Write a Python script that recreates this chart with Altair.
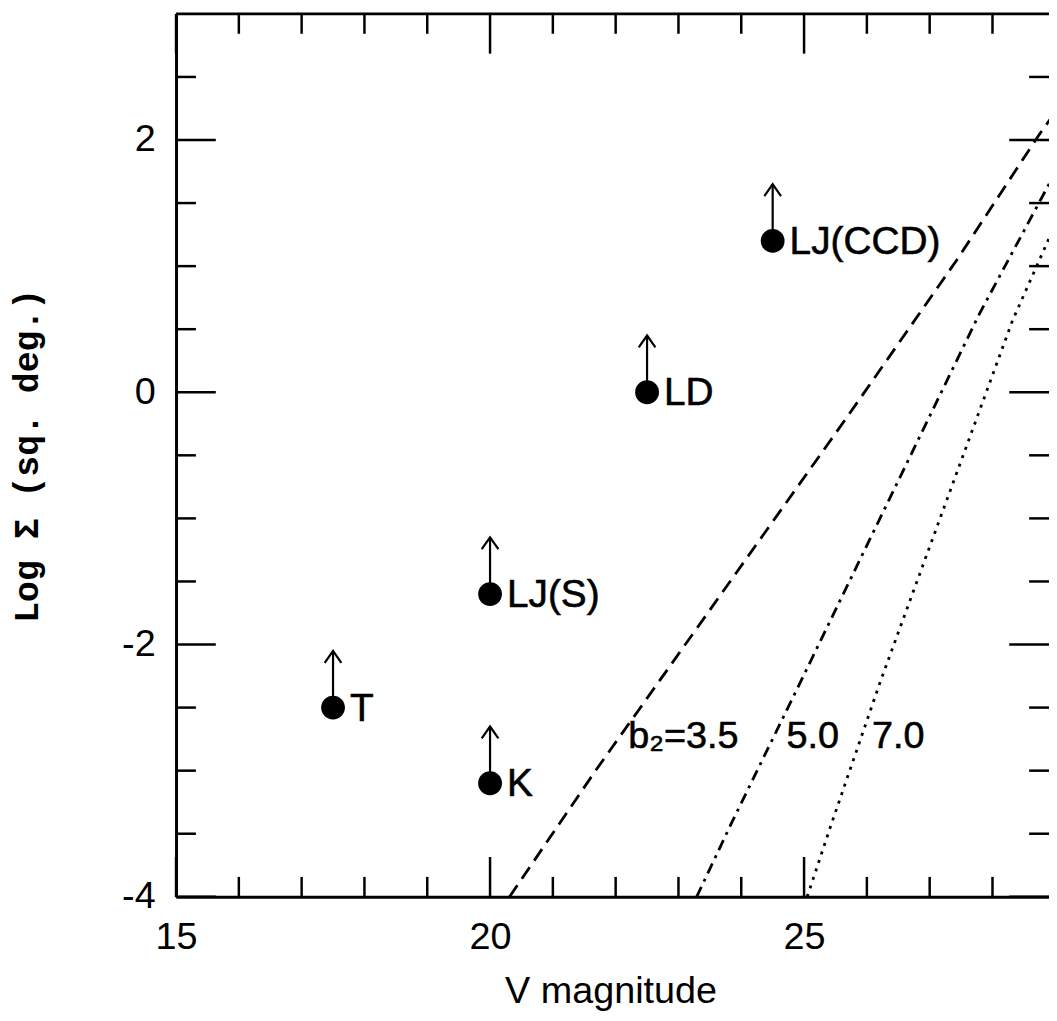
import altair as alt
import pandas as pd

# ---- data ----
names = ["T", "LJ(S)", "K", "LD", "LJ(CCD)"]
vmag = [17.5, 20.0, 20.0, 22.5, 24.5]
log_sigma = [-2.5, -1.6, -3.1, 0.0, 1.2]

curve35_v = [20.31, 21.68, 25.68, 27.42, 28.74, 29.0]
curve35_s = [-4.0, -3.0, -0.2, 1.04, 2.04, 2.22]
curve50_v = [23.29, 23.85, 24.95, 27.79, 28.9, 29.0]
curve50_s = [-4.0, -3.41, -2.29, 0.62, 1.65, 1.74]
curve70_v = [25.05, 25.43, 26.21, 26.68, 28.32, 28.9, 29.0]
curve70_s = [-4.0, -3.43, -2.30, -1.66, 0.57, 1.22, 1.33]

curve_labels = ["b\u2082=3.5", "5.0", "7.0"]
curve_label_v = [22.2, 24.72, 26.08]
curve_label_s = [-2.82, -2.82, -2.82]

x_major = [15, 20, 25]
x_minor = [16, 17, 18, 19, 21, 22, 23, 24, 26, 27, 28]
y_major = [-4, -2, 0, 2]
y_minor = [-3.5, -3, -2.5, -1.5, -1, -0.5, 0.5, 1, 1.5, 2.5]

W, H = 878, 888
FONT = "Liberation Sans"

pts = pd.DataFrame({"name": names, "v": vmag, "s": log_sigma})
c35 = pd.DataFrame({"v": curve35_v, "s": curve35_s})
c50 = pd.DataFrame({"v": curve50_v, "s": curve50_s})
c70 = pd.DataFrame({"v": curve70_v, "s": curve70_s})
clab = pd.DataFrame({"t": curve_labels, "v": curve_label_v, "s": curve_label_s})
xmaj = pd.DataFrame({"v": x_major})
xmin = pd.DataFrame({"v": x_minor})
ymaj = pd.DataFrame({"s": y_major})
ymin = pd.DataFrame({"s": y_minor})
one = pd.DataFrame({"a": [0]})

xs = alt.Scale(domain=[15, 28.9], nice=False, zero=False)
ys = alt.Scale(domain=[-4, 3], nice=False, zero=False)

xaxis = alt.Axis(
    values=x_major, ticks=False, tickSize=0, grid=False,
    domainWidth=3, domainColor="black", labelFont=FONT, labelFontSize=38,
    labelColor="black", labelPadding=22, labelFlush=False, labelOverlap=False,
    labelExpr="'' + datum.value",
    titleFont=FONT, titleFontSize=38, titleFontWeight="normal", titleColor="black",
    titleX=437, titleY=106, titleAlign="center", titleBaseline="alphabetic",
)
yaxis = alt.Axis(
    values=y_major, ticks=False, tickSize=0, grid=False,
    domainWidth=3, domainColor="black", labelFont=FONT, labelFontSize=38,
    labelColor="black", labelPadding=21, labelFlush=False, labelOverlap=False,
    labelExpr="'' + datum.value",
    titleFont="Liberation Mono", titleFontSize=35, titleFontWeight="bold",
    titleColor="black", titleX=-139, titleY=H / 2, titleAngle=270,
    titleAlign="center", titleBaseline="alphabetic",
)

XT = "V magnitude"
YT = "Log \u03a3 (sq. deg.)"


def X(field="v"):
    return alt.X(f"{field}:Q", scale=xs, axis=xaxis, title=XT)


def Y(field="s"):
    return alt.Y(f"{field}:Q", scale=ys, axis=yaxis, title=YT)


def curve(df, dash):
    return alt.Chart(df).mark_line(
        color="black", strokeWidth=2.8, strokeDash=dash, clip=True
    ).encode(x=X(), y=Y(), order="v:Q")


lines = [
    curve(c35, [14, 8]),
    curve(c50, [11, 6, 3, 6]),
    curve(c70, [3, 6]),
]


def xticks(df, y0, y1):
    return alt.Chart(df).mark_rule(color="black", strokeWidth=2.5).encode(
        x=X(), y=alt.value(y0), y2=alt.value(y1)
    )


def yticks(df, x0, x1):
    return alt.Chart(df).mark_rule(color="black", strokeWidth=2.5).encode(
        y=Y(), x=alt.value(x0), x2=alt.value(x1)
    )


ticks = [
    xticks(xmaj, H, H - 40), xticks(xmin, H, H - 20),
    xticks(xmaj, 0, 40), xticks(xmin, 0, 20),
    yticks(ymaj, 0, 40), yticks(ymin, 0, 20),
    yticks(ymaj, W, W - 40), yticks(ymin, W, W - 20),
]

top_frame = alt.Chart(one).mark_rule(color="black", strokeWidth=3).encode(
    x=alt.value(0), x2=alt.value(W), y=alt.value(0)
)

shaft = alt.Chart(pts).transform_calculate(stop="datum.s + 0.45").mark_rule(
    color="black", strokeWidth=2.2
).encode(x=X(), y=Y(), y2="stop:Q")

head = alt.Chart(pts).transform_calculate(stop="datum.s + 0.45").mark_point(
    shape="M -0.7 1 L 0 0 L 0.7 1", filled=False, color="black",
    strokeWidth=2.2, size=576, opacity=1
).encode(x=X(), y=Y("stop"))

dots = alt.Chart(pts).mark_circle(size=573, color="black", opacity=1).encode(
    x=X(), y=Y()
)

labels = alt.Chart(pts).mark_text(
    align="left", baseline="alphabetic", dx=17, dy=13,
    font=FONT, fontSize=39, color="black", stroke="black", strokeWidth=0.6
).encode(x=X(), y=Y(), text="name:N")

curve_text = alt.Chart(clab).mark_text(
    align="left", baseline="alphabetic", font=FONT, fontSize=38, color="black",
    stroke="black", strokeWidth=0.6
).encode(x=X(), y=Y(), text="t:N")

chart = alt.layer(
    *lines, *ticks, top_frame, shaft, head, dots, labels, curve_text
).properties(
    width=W, height=H,
    autosize=alt.AutoSizeParams(type="none"),
    padding={"left": 169, "top": 3, "right": 0, "bottom": 118},
).configure_view(stroke=None)

chart.save("out.html", embed_options={"renderer": "svg", "actions": False})
